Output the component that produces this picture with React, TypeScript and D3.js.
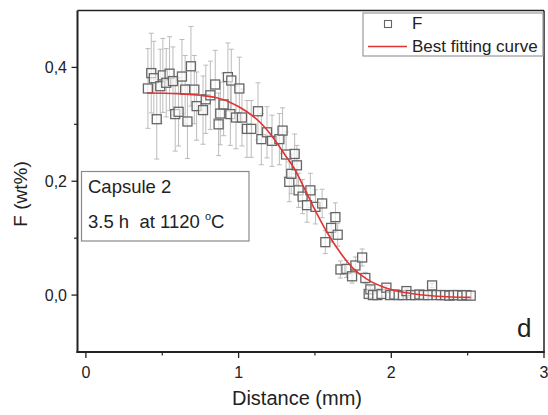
import React from "react";
import * as d3 from "d3";

const distance = [
  0.406, 0.428, 0.445, 0.464, 0.487, 0.504, 0.526, 0.548, 0.570, 0.585,
  0.607, 0.629, 0.650, 0.665, 0.688, 0.710, 0.725, 0.767, 0.785, 0.815,
  0.847, 0.869, 0.880, 0.902, 0.930, 0.946, 0.952, 0.983, 1.005, 1.022,
  1.055, 1.083, 1.127, 1.149, 1.186, 1.219, 1.267, 1.288, 1.311, 1.332,
  1.345, 1.367, 1.382, 1.393, 1.419, 1.448, 1.470, 1.503, 1.547, 1.568,
  1.606, 1.634, 1.649, 1.667, 1.706, 1.743, 1.765, 1.809, 1.830, 1.852,
  1.863, 1.880, 1.908, 1.936, 1.968, 1.992, 2.020, 2.048, 2.076, 2.099,
  2.128, 2.156, 2.184, 2.212, 2.240, 2.267, 2.296, 2.324, 2.352, 2.380,
  2.408, 2.436, 2.464, 2.492, 2.520,
];
const fluorine = [
  0.363, 0.390, 0.381, 0.309, 0.367, 0.386, 0.373, 0.389, 0.376, 0.318,
  0.322, 0.384, 0.361, 0.305, 0.402, 0.361, 0.332, 0.325, 0.344, 0.351,
  0.370, 0.300, 0.319, 0.335, 0.383, 0.318, 0.377, 0.312, 0.363, 0.312,
  0.292, 0.292, 0.323, 0.274, 0.286, 0.271, 0.274, 0.289, 0.247, 0.199,
  0.213, 0.248, 0.228, 0.184, 0.173, 0.158, 0.184, 0.155, 0.161, 0.093,
  0.118, 0.137, 0.106, 0.045, 0.046, 0.033, 0.052, 0.066, 0.030, 0.002,
  0.010, 0.000, 0.000, 0.002, 0.013, 0.000, 0.001, 0.000, 0.000, 0.007,
  0.000, 0.000, 0.001, 0.000, 0.000, 0.017, 0.000, 0.000, 0.000, -0.001,
  0.000, 0.000, -0.001, 0.000, -0.001,
];
const fluorineErr = [
  0.070, 0.070, 0.065, 0.070, 0.065, 0.065, 0.060, 0.065, 0.060, 0.065,
  0.060, 0.065, 0.060, 0.065, 0.070, 0.060, 0.060, 0.060, 0.060, 0.060,
  0.060, 0.055, 0.055, 0.055, 0.060, 0.055, 0.055, 0.055, 0.055, 0.050,
  0.050, 0.050, 0.050, 0.045, 0.045, 0.045, 0.045, 0.040, 0.040, 0.035,
  0.035, 0.035, 0.035, 0.030, 0.030, 0.030, 0.030, 0.030, 0.025, 0.020,
  0.025, 0.025, 0.020, 0.015, 0.015, 0.012, 0.015, 0.015, 0.010, 0.005,
  0.005, 0.004, 0.004, 0.004, 0.004, 0.004, 0.004, 0.004, 0.004, 0.004,
  0.004, 0.004, 0.004, 0.004, 0.004, 0.004, 0.004, 0.004, 0.004, 0.004,
  0.004, 0.004, 0.004, 0.004, 0.004,
];

const fitDistance = [
  0.40, 0.60, 0.75, 0.85, 0.95, 1.05, 1.15, 1.23, 1.30, 1.37,
  1.43, 1.49, 1.58, 1.67, 1.75, 1.84, 1.97, 2.10, 2.30, 2.52,
];
const fitValue = [
  0.355, 0.354, 0.351, 0.347, 0.338, 0.323, 0.301, 0.275, 0.248, 0.220,
  0.188, 0.155, 0.110, 0.073, 0.047, 0.028, 0.012, 0.004, -0.002, -0.004,
];

const xMajor = [0, 1, 2, 3];
const xMinor = [0.5, 1.5, 2.5];
const yMajor = [0, 0.2, 0.4];
const yMinor = [0.1, 0.3];
const yLabels = ["0,0", "0,2", "0,4"];

const FONT = "'Liberation Sans', Arial, sans-serif";

export default function App() {
  const left = 77.5, right = 544, top = 10.5, bottom = 352;
  const x = d3.scaleLinear().domain([-0.055, 3]).range([left, right]);
  const y = d3.scaleLinear().domain([-0.1, 0.5]).range([bottom, top]);

  const fitLine = d3
    .line<number>()
    .x((_, i) => x(fitDistance[i]))
    .y((v) => y(v))
    .curve(d3.curveMonotoneX)(fitValue) as string;

  const red = "#e03434";
  const markerStroke = "#666";
  const errColor = "#b4b4b4";
  const ms = 9;

  return (
    <svg
      width={548}
      height={415}
      style={{ position: "absolute", left: 0, top: 0, background: "#fff" }}
      fontFamily={FONT}
    >
      <rect x={0} y={0} width={548} height={415} fill="#fff" />

      {/* error bars */}
      <g stroke={errColor} strokeWidth={0.9}>
        {distance.map((d, i) => {
          const cx = x(d);
          const y1 = y(fluorine[i] + fluorineErr[i]);
          const y2 = y(fluorine[i] - fluorineErr[i]);
          return (
            <g key={i}>
              <line x1={cx} x2={cx} y1={y1} y2={y2} />
              <line x1={cx - 2.5} x2={cx + 2.5} y1={y1} y2={y1} />
              <line x1={cx - 2.5} x2={cx + 2.5} y1={y2} y2={y2} />
            </g>
          );
        })}
      </g>

      {/* markers */}
      <g fill="#fff" stroke={markerStroke} strokeWidth={1.3}>
        {distance.map((d, i) => (
          <rect
            key={i}
            x={x(d) - ms / 2}
            y={y(fluorine[i]) - ms / 2}
            width={ms}
            height={ms}
            fillOpacity={0.6}
          />
        ))}
      </g>

      {/* fit curve */}
      <path d={fitLine} fill="none" stroke={red} strokeWidth={1.6} />

      {/* frame */}
      <line x1={left} x2={right} y1={top} y2={top} stroke="#222" strokeWidth={1.5} />
      <line x1={right} x2={right} y1={top} y2={bottom} stroke="#222" strokeWidth={1.5} />
      <line x1={left} x2={left} y1={top} y2={bottom + 1} stroke="#222" strokeWidth={2} />
      <line x1={left - 1} x2={right + 0.75} y1={bottom} y2={bottom} stroke="#222" strokeWidth={2} />

      {/* x ticks */}
      {xMajor.map((t) => (
        <g key={t}>
          <line x1={x(t)} x2={x(t)} y1={bottom} y2={bottom + 6} stroke="#222" strokeWidth={1.3} />
          <text x={x(t)} y={378} fontSize={16} textAnchor="middle" fill="#222">
            {t}
          </text>
        </g>
      ))}
      {xMinor.map((t) => (
        <line key={t} x1={x(t)} x2={x(t)} y1={bottom} y2={bottom + 3.5} stroke="#222" strokeWidth={1.2} />
      ))}

      {/* y ticks */}
      {yMajor.map((t, i) => (
        <g key={t}>
          <line x1={left - 6} x2={left} y1={y(t)} y2={y(t)} stroke="#222" strokeWidth={1.3} />
          <text x={67} y={y(t) + 5.5} fontSize={16} textAnchor="end" fill="#222">
            {yLabels[i]}
          </text>
        </g>
      ))}
      {yMinor.map((t) => (
        <line key={t} x1={left - 3.5} x2={left} y1={y(t)} y2={y(t)} stroke="#222" strokeWidth={1.2} />
      ))}

      {/* axis titles */}
      <text x={297} y={405} fontSize={20} textAnchor="middle" fill="#222">
        Distance (mm)
      </text>
      <text
        transform="translate(27,194) rotate(-90)"
        fontSize={19}
        textAnchor="middle"
        fill="#222"
      >
        F (wt%)
      </text>

      {/* annotation box */}
      <rect x={81.5} y={171.5} width={167.5} height={69.5} fill="#fff" stroke="#8a8a8a" strokeWidth={1.2} />
      <text x={88} y={193} fontSize={18.5} fill="#222">
        Capsule 2
      </text>
      <text x={88} y={228} fontSize={18.5} fill="#222" style={{ whiteSpace: "pre" }}>
        {"3.5 h  at 1120 "}
        <tspan fontSize={11} dy={-8}>o</tspan>
        <tspan dy={8}>C</tspan>
      </text>

      {/* legend */}
      <rect x={363} y={13} width={180} height={43} fill="#fff" stroke="#9a9a9a" strokeWidth={1.2} />
      <rect x={384.5} y={20.5} width={7} height={7} fill="#fff" stroke={markerStroke} strokeWidth={1.1} />
      <text x={412} y={29} fontSize={17} fill="#222">F</text>
      <line x1={368} x2={407} y1={46.5} y2={46.5} stroke={red} strokeWidth={1.6} />
      <text x={412} y={52} fontSize={17} fill="#222">Best fitting curve</text>

      {/* panel label */}
      <text x={517} y={337} fontSize={26} fill="#222">d</text>
    </svg>
  );
}
